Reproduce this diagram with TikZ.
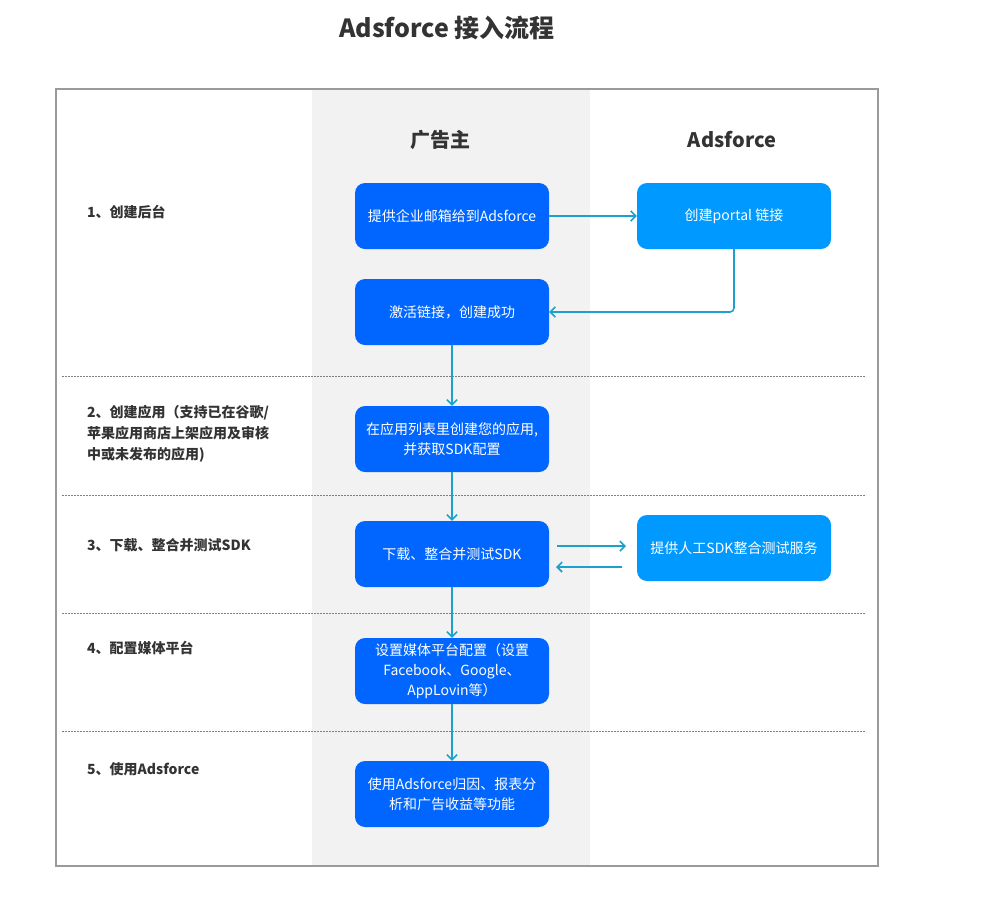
\documentclass[tikz,border=0pt]{standalone}
\usepackage{fontspec}
\setmainfont{Noto Sans CJK SC}
\newfontfamily\latinbold{Liberation Sans}
\usetikzlibrary{arrows.meta}
\definecolor{boxblue}{HTML}{0066FF}
\definecolor{boxlight}{HTML}{0099FF}
\definecolor{arrowc}{HTML}{1BA1CC}
\definecolor{lanegray}{HTML}{F2F2F2}
\definecolor{framegray}{HTML}{9A9A9A}
\definecolor{txt}{HTML}{333333}
\tikzset{
  flowbox/.style={draw=none, fill=boxblue, rounded corners=10pt, minimum width=194pt, minimum height=66pt, text=white, align=center, font=\fontsize{14}{20}\selectfont, inner sep=2pt},
  lightbox/.style={flowbox, fill=boxlight},
  flowarrow/.style={draw=arrowc, line width=1.6pt, -{Straight Barb[length=5pt,width=10pt,line width=1.6pt]}, rounded corners=4pt},
  steplabel/.style={text=txt, font=\bfseries\fontsize{14}{21}\selectfont, align=left, inner sep=0pt},
  sepline/.style={draw=gray, dashed, dash pattern=on 2pt off 1pt, line width=0.6pt},
  header/.style={text=txt, font=\bfseries\fontsize{20}{24}\selectfont}
}
\begin{document}
\begin{tikzpicture}[x=1pt,y=-1pt]
\useasboundingbox (0,0) rectangle (990,898);
\fill[white] (0,0) rectangle (990,898);
% lane
\fill[lanegray] (312,90) rectangle (590,866);
\draw[framegray, line width=1.2pt] (56,89) rectangle (878,866);
% title
\node[text=txt, font=\bfseries\fontsize{25}{30}\selectfont] (title) at (447,28) {Adsforce 接入流程};
\node[header] (h1) at (440,140) {广告主};
\node[header] (h2) at (732,140) {Adsforce};
% separators
\foreach \yy in {376,495,613,731} \draw[sepline] (62,\yy) -- (866,\yy);
% left labels
\node[steplabel, anchor=west] (l1) at (87,212) {1、创建后台};
\node[steplabel, anchor=north west] (l2) at (87,405) {2、创建应用（支持已在谷歌/\\苹果应用商店上架应用及审核\\中或未发布的应用)};
\node[steplabel, anchor=west] (l3) at (87,545) {3、下载、整合并测试SDK};
\node[steplabel, anchor=west] (l4) at (87,648) {4、配置媒体平台};
\node[steplabel, anchor=west] (l5) at (87,769) {5、使用Adsforce};
% boxes
\node[flowbox] (b1) at (452,216) {提供企业邮箱给到Adsforce};
\node[flowbox] (b2) at (452,312) {激活链接，创建成功};
\node[flowbox] (b3) at (452,439) {在应用列表里创建您的应用,\\并获取SDK配置};
\node[flowbox] (b4) at (452,554) {下载、整合并测试SDK};
\node[flowbox] (b5) at (452,671) {设置媒体平台配置（设置\\Facebook、Google、\\AppLovin等）};
\node[flowbox] (b6) at (452,794) {使用Adsforce归因、报表分\\析和广告收益等功能};
\node[lightbox] (r1) at (734,216) {创建portal 链接};
\node[lightbox] (r2) at (734,548) {提供人工SDK整合测试服务};
% arrows
\draw[flowarrow] (b1.east) -- (r1.west);
\draw[flowarrow] (r1.south) -- (r1.south |- b2.east) -- (b2.east);
\draw[flowarrow] (b2.south) -- (b3.north);
\draw[flowarrow] (b3.south) -- (b4.north);
\draw[flowarrow] (b4.south) -- (b5.north);
\draw[flowarrow] (b5.south) -- (b6.north);
\coordinate (a1s) at (557,546);
\coordinate (a1e) at (626,546);
\coordinate (a2s) at (622,567);
\coordinate (a2e) at (556,567);
\draw[flowarrow] (a1s) -- (a1e);
\draw[flowarrow] (a2s) -- (a2e);
\end{tikzpicture}
\end{document}
